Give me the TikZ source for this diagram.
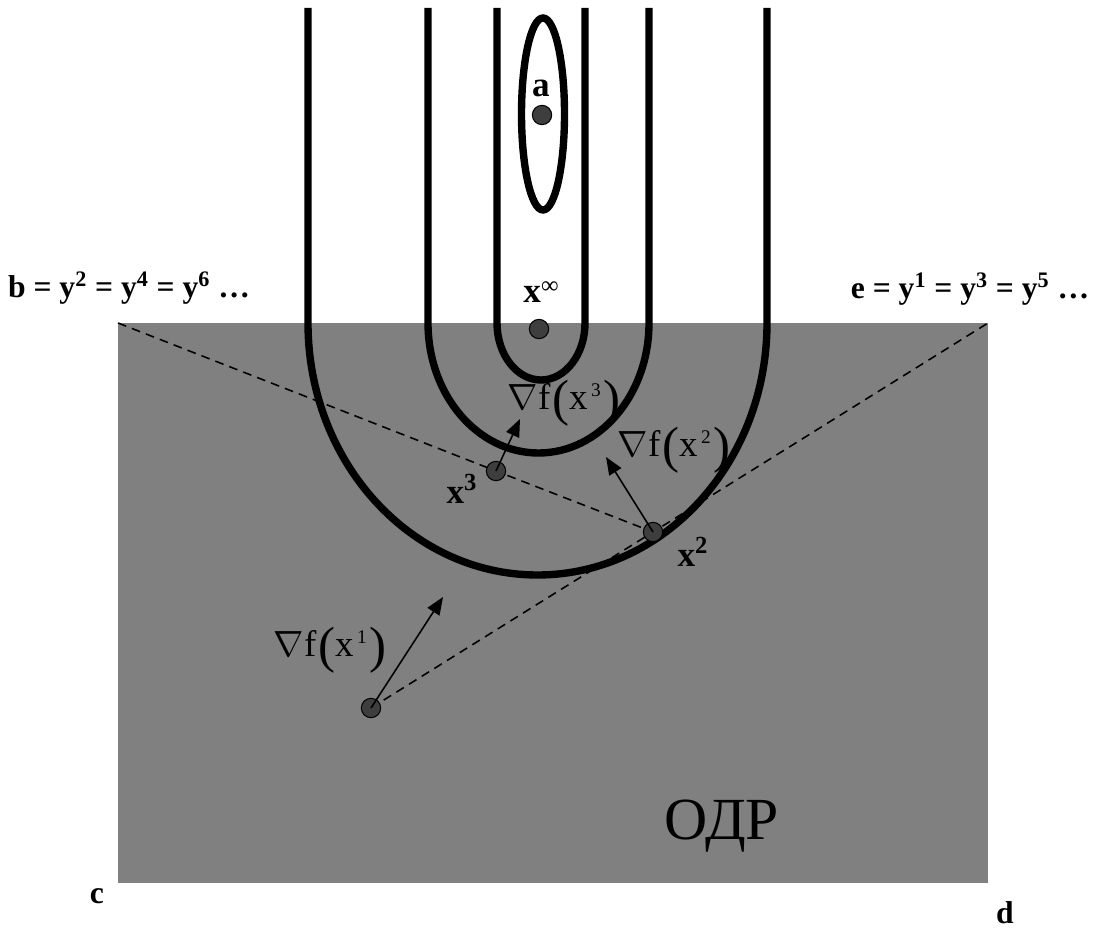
\documentclass[tikz,border=0pt]{standalone}
\usepackage{fontspec}
\setmainfont{Liberation Serif}
\usetikzlibrary{arrows.meta}
\definecolor{RegionGray}{RGB}{128,128,128}
\definecolor{DotGray}{RGB}{62,62,62}
\tikzset{
  contour/.style={line width=4.2pt,draw=black},
  dashline/.style={dashed,dash pattern=on 5pt off 3.5pt,line width=0.9pt,draw=black},
  dotnode/.style={circle,draw=black,fill=DotGray,line width=0.6pt,minimum size=11pt,inner sep=0pt},
  gradarrow/.style={-{Triangle[length=10pt,width=8pt]},line width=0.9pt,draw=black},
  boldlbl/.style={font=\fontsize{20}{22}\selectfont\bfseries,inner sep=0pt},
  cornerlbl/.style={font=\fontsize{18}{20}\selectfont\bfseries,inner sep=0pt},
  gradlbl/.style={font=\fontsize{21}{24}\selectfont,inner sep=0pt}
}
\newcommand{\gradtext}[1]{$\nabla$f\kern1pt\raisebox{-3pt}{\fontsize{29}{29}\selectfont(}x\kern2pt\textsuperscript{\fontsize{11}{11}\selectfont #1}\kern1pt\raisebox{-3pt}{\fontsize{29}{29}\selectfont)}}
\begin{document}
\begin{tikzpicture}[x=0.02cm,y=-0.02cm]
\useasboundingbox (0,0) rectangle (1094,949);
% feasible region
\fill[RegionGray] (118,323) rectangle (988,883);
\coordinate (b) at (118,323);
\coordinate (e) at (988,323);
\coordinate (c) at (118,883);
\coordinate (d) at (988,883);

% level lines
\draw[contour] (308,8) -- (308,323) arc[start angle=180,end angle=0,x radius=229.5,y radius=252] -- (767,8);
\draw[contour] (428,8) -- (428,323) arc[start angle=180,end angle=0,x radius=110.5,y radius=130] -- (649,8);
\draw[contour] (497,8) -- (497,323) arc[start angle=180,end angle=0,x radius=44,y radius=57] -- (585,8);
\draw[contour] (543,114) ellipse[x radius=21.5,y radius=96];

% segments to the corners
\coordinate (p1) at (371,708);
\coordinate (p2) at (653,532);
\coordinate (p3) at (496,471);
\draw[dashline] (b) -- (p3) -- (p2);
\draw[dashline] (p1) -- (p2) -- (e);

% iteration points
\node[dotnode] (a) at (542,115) {};
\node[dotnode] (xinf) at (539,329) {};
\node[dotnode] (x1) at (p1) {};
\node[dotnode] (x2) at (p2) {};
\node[dotnode] (x3) at (p3) {};

% gradients
\coordinate (g1) at (443,597);
\coordinate (g2) at (606,457);
\coordinate (g3) at (520,419);
\draw[gradarrow] (x1.center) -- (g1);
\draw[gradarrow] (x2.center) -- (g2);
\draw[gradarrow] (x3.center) -- (g3);

% labels
\node[boldlbl] (la) at (541,88) {a};
\node[boldlbl] (lxinf) at (541,292) {x\raisebox{5pt}{\fontsize{14}{14}\selectfont\mdseries ∞}};
\node[boldlbl] (lx3) at (462,489) {x\textsuperscript{3}};
\node[boldlbl] (lx2) at (693,552) {x\textsuperscript{2}};
\node[cornerlbl] (lb) at (129,288) {b = y\textsuperscript{2} = y\textsuperscript{4} = y\textsuperscript{6} \dots};
\node[cornerlbl] (le) at (970,289) {e = y\textsuperscript{1} = y\textsuperscript{3} = y\textsuperscript{5} \dots};
\node[cornerlbl] (lc) at (97,896) {c};
\node[cornerlbl] (ld) at (1005,913) {d};
\node[gradlbl] (lg3) at (564,403) {\gradtext{3}};
\node[gradlbl] (lg2) at (674,450) {\gradtext{2}};
\node[gradlbl] (lg1) at (330,650) {\gradtext{1}};
\node[font=\fontsize{34}{36}\selectfont,inner sep=0pt] (odr) at (722,826) {ОДР};
\end{tikzpicture}
\end{document}
